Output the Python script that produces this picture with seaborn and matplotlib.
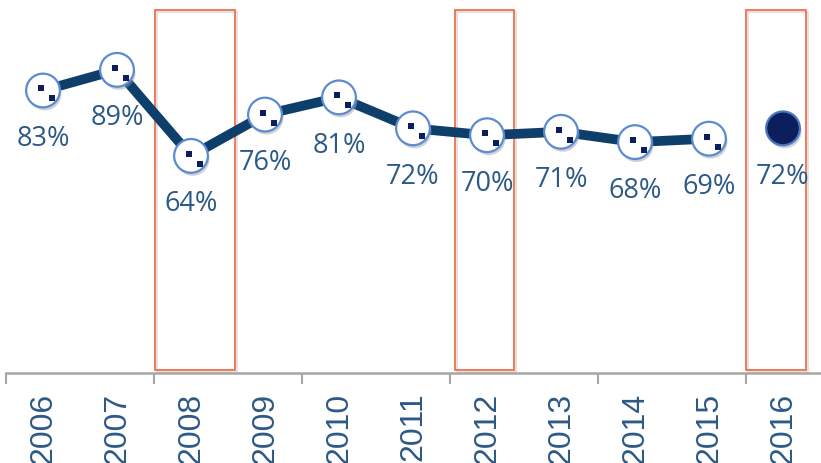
import numpy as np
import pandas as pd
import seaborn as sns
import matplotlib
matplotlib.use("Agg")
from matplotlib import pyplot as plt
from matplotlib import patheffects as pe
from matplotlib.patches import Rectangle
from matplotlib.transforms import ScaledTranslation, blended_transform_factory

years = ['2006', '2007', '2008', '2009', '2010', '2011', '2012', '2013', '2014', '2015', '2016']
values = [83, 89, 64, 76, 81, 72, 70, 71, 68, 69, 72]
labels = ['83%', '89%', '64%', '76%', '81%', '72%', '70%', '71%', '68%', '69%', '72%']
# 2016 is shown on its own, not joined to the line
connected = [True] * 10 + [False]
# highlighted years (box extent left/right of the category, in category units)
box_years = ['2008', '2012', '2016']
box_left = [0.49, 0.43, 0.50]
box_right = [0.59, 0.36, 0.31]

line_col = '#0E3F6B'
edge_col = '#5B8BD2'
navy = '#0A1F5C'
text_col = '#2D5986'
box_col = '#F0643C'

sns.set_style('white')
plt.rcParams['font.family'] = ['Open Sans', 'DejaVu Sans']

df = pd.DataFrame({'year': years, 'value': values, 'label': labels, 'connected': connected})
df['x'] = np.arange(len(df))

fig = plt.figure(figsize=(8.21, 4.63), dpi=100)
ax = fig.add_axes([6 / 821, 90 / 463, 814 / 821, 373 / 463])

line_df = df[df['connected']]
sns.lineplot(data=line_df, x='x', y='value', ax=ax, color=line_col, lw=7,
             solid_capstyle='round', zorder=2)

shadow = [pe.SimplePatchShadow(offset=(1.2, -2.2), shadow_rgbFace='#999999', alpha=0.45), pe.Normal()]
sns.scatterplot(data=line_df, x='x', y='value', ax=ax, s=590, color='white',
                edgecolor=edge_col, linewidth=1.6, zorder=3)
ax.collections[-1].set_path_effects(shadow)

# little dark squares inside the hollow markers
for dx, dy, sz in [(-2, 2, 16), (9, -8, 18)]:
    off = ScaledTranslation(dx / 100, dy / 100, fig.dpi_scale_trans)
    ax.scatter(line_df['x'], line_df['value'], marker='s', s=sz, color=navy,
               linewidths=0, zorder=4, transform=ax.transData + off)

solo = df[~df['connected']]
sns.scatterplot(data=solo, x='x', y='value', ax=ax, s=590, color=navy,
                edgecolor='#4A78C0', linewidth=1.6, zorder=3)
ax.collections[-1].set_path_effects(shadow)

for _, r in df.iterrows():
    ax.annotate(r['label'], (r['x'], r['value']), xytext=(0, -35), textcoords='offset points',
                ha='center', va='center', fontsize=19.5, color=text_col, zorder=5)

trans = blended_transform_factory(ax.transData, ax.transAxes)
box_shadow = [pe.SimpleLineShadow(offset=(1.5, -1.5), shadow_color='#bbbbbb', alpha=0.5), pe.Normal()]
for y, l, rgt in zip(box_years, box_left, box_right):
    i = years.index(y)
    rect = Rectangle((i - l, 0.008), l + rgt, 0.965, transform=trans, fill=False,
                     edgecolor=box_col, lw=1.2, zorder=1, clip_on=False)
    rect.set_path_effects(box_shadow)
    ax.add_patch(rect)

ax.set_xlim(-0.5, len(years) - 0.5)
ax.set_ylim(0.9, 109.3)
ax.set_xlabel('')
ax.set_ylabel('')
ax.set_yticks([])
ax.set_xticks(np.arange(-0.5, len(years), 2))
ax.set_xticklabels([])
ax.tick_params(axis='x', which='major', length=8, width=1.5, color='#A6A6A6', bottom=True)
ax.set_xticks(df['x'], minor=True)
ax.set_xticklabels(years, minor=True, rotation=90, fontsize=23, color=text_col,
                   fontfamily=['Liberation Sans'], va='top')
ax.tick_params(axis='x', which='minor', length=0, pad=14)
for s in ['top', 'right', 'left']:
    ax.spines[s].set_visible(False)
ax.spines['bottom'].set_color('#A6A6A6')
ax.spines['bottom'].set_linewidth(1.8)

fig.savefig('out.png', dpi=100)
